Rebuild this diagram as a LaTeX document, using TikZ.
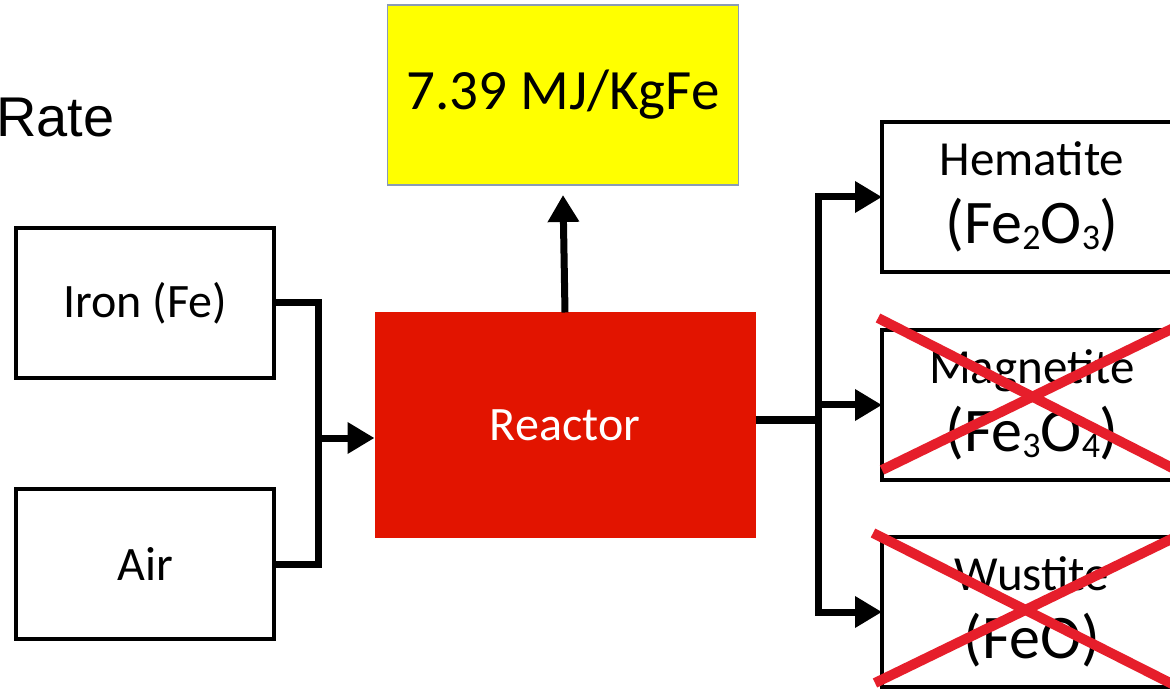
\documentclass[tikz,border=0pt]{standalone}
\usepackage{fontspec}
\setmainfont{Carlito}
\newfontfamily\arialfont{Liberation Sans}
\usetikzlibrary{arrows.meta, positioning, calc}
\definecolor{cred}{HTML}{E21400}
\definecolor{cyellow}{HTML}{FFFF00}
\definecolor{cedge}{HTML}{8A9BB5}
\definecolor{ccross}{HTML}{E61E2B}
\newcommand{\chemsub}[1]{\raisebox{-6pt}{\fontsize{36}{36}\selectfont #1}}
\tikzset{
  box/.style={draw=black, fill=white, line width=4pt, minimum width=258pt, minimum height=150pt, inner sep=0pt, outer sep=0pt, align=center},
  prod/.style={box, minimum width=300pt, font=\fontsize{49}{56}\selectfont},
  link/.style={draw=black, line width=7pt},
  arrow/.style={link, -{Triangle[length=27pt, width=30pt]}},
  cross/.style={draw=ccross, line width=10pt},
}

\begin{document}
\begin{tikzpicture}[x=1pt, y=-1pt, every node/.append style={font=\fontsize{48}{56}\selectfont}]
  \useasboundingbox (0,0) rectangle (1170,692);
  \clip (0,0) rectangle (1170,692);
  \node[anchor=base west, inner sep=0pt, font=\arialfont\fontsize{56}{60}\selectfont] (rate) at (-4,137) {Rate};
  \node[box] (iron) at (145,303) {Iron (Fe)};
  \node[box] (air) at (145,564) {Air};
  \node[fill=cred, text=white, minimum width=381pt, minimum height=225pt, outer sep=0pt] (reac) at (565,425) {Reactor};
  \node[draw=cedge, line width=1.5pt, fill=cyellow, minimum width=351pt, minimum height=180pt, outer sep=0pt, font=\fontsize{57}{60}\selectfont] (nrg) at (563,95) {7.39 MJ/KgFe};
  \node[prod] (hem) at (1032,197) {Hematite\\[12pt]{\fontsize{62}{66}\selectfont (Fe\chemsub{2}O\chemsub{3})}};
  \node[prod] (mag) at (1032,405) {Magnetite\\[12pt]{\fontsize{62}{66}\selectfont (Fe\chemsub{3}O\chemsub{4})}};
  \node[prod] (wus) at (1032,612) {Wustite\\[12pt]{\fontsize{62}{66}\selectfont (FeO)}};
  \coordinate (jl) at (318,438);
  \coordinate (jr) at (818,420);
  \draw[link] (iron.east) -| (jl);
  \draw[link] (air.east) -| (jl);
  \draw[arrow] (jl) -- (jl -| reac.west);
  \draw[arrow] (reac.north) -- ([yshift=-10pt]nrg.south);
  \draw[link] (reac.east |- jr) -- (jr);
  \draw[arrow] (jr) |- (hem.west);
  \draw[arrow] (jr) |- (mag.west);
  \draw[arrow] (jr) |- (wus.west);
  % crossed out
  \draw[cross] (878,318) -- (1190,477);
  \draw[cross] (882,470) -- (1190,320);
  \draw[cross] (873,533) -- (1190,693);
  \draw[cross] (875,683) -- (1190,530);
\end{tikzpicture}
\end{document}
